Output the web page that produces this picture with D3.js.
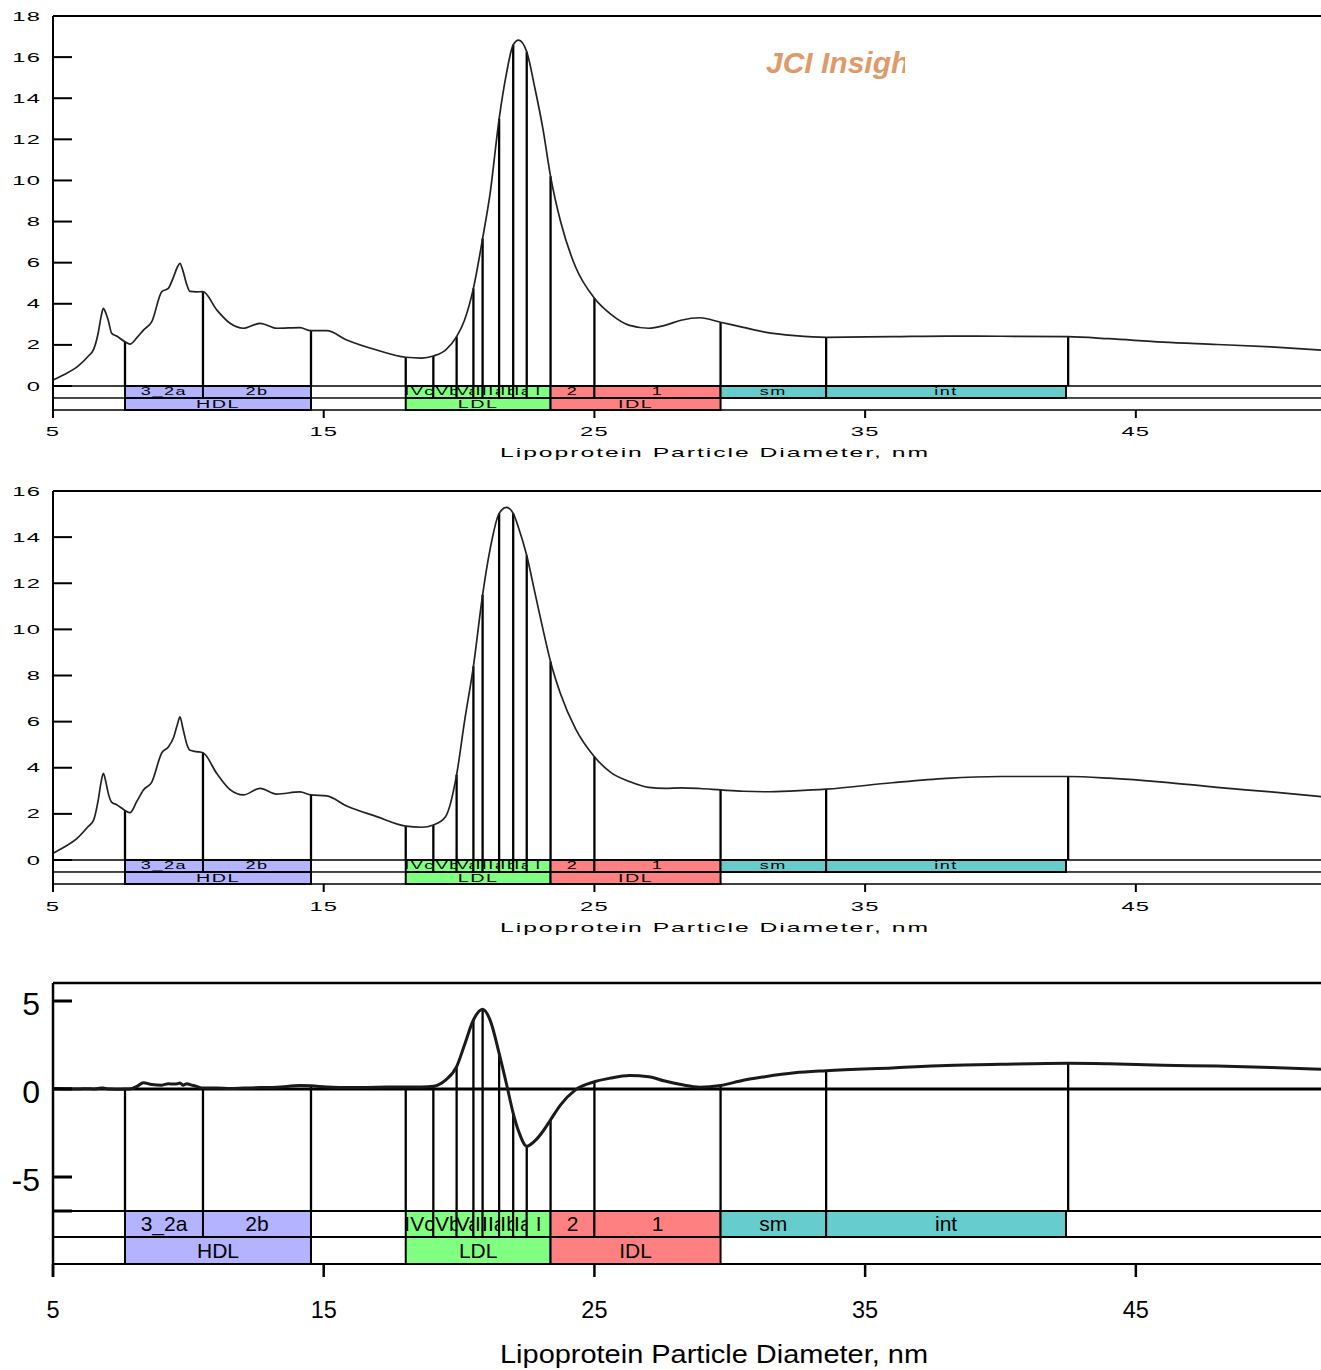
<!DOCTYPE html>
<html>
<head>
<meta charset="utf-8">
<script src="https://cdnjs.cloudflare.com/ajax/libs/d3/7.8.5/d3.min.js"></script>
<style>
  html, body { margin: 0; padding: 0; background: #fff; }
  svg { display: block; font-family: "Liberation Sans", Arial, sans-serif; }
</style>
</head>
<body>
<svg id="vis" width="1321" height="1370"></svg>
<script>

// particle diameter (nm) where the profiles were read
var diam = [5.0, 5.4, 5.9, 6.3, 6.5, 6.67, 6.78, 6.86, 6.95, 7.04,
	7.17, 7.35, 7.66, 7.84, 8.1, 8.34, 8.65, 9.02, 9.26, 9.45,
	9.6, 9.69, 9.8, 9.95, 10.06, 10.3, 10.54, 11.05, 11.54, 12.03,
	12.65, 13.26, 14.12, 14.53, 15.11, 15.85, 16.96, 18.03, 18.62, 19.05,
	19.5, 19.91, 20.2, 20.53, 20.87, 21.15, 21.48, 21.75, 22.0, 22.2,
	22.5, 22.8, 23.1, 23.38, 23.75, 24.3, 25.0, 25.6, 26.3, 27.0,
	27.6, 28.2, 28.9, 29.66, 30.5, 31.3, 32.4, 33.56, 36.0, 38.0,
	40.0, 42.5, 44.0, 46.0, 48.0, 50.0, 51.84];

// top panel profile
var profileA = [0.29, 0.55, 0.94, 1.45, 1.78, 2.58, 3.4, 3.78, 3.55, 3.2,
	2.56, 2.43, 2.15, 2.04, 2.35, 2.72, 3.13, 4.59, 4.75, 5.3,
	5.8, 5.97, 5.6, 4.9, 4.6, 4.58, 4.59, 3.7, 3.05, 2.81,
	3.05, 2.81, 2.84, 2.69, 2.69, 2.24, 1.75, 1.40, 1.36, 1.46,
	1.75, 2.40, 3.2, 4.75, 7.18, 9.4, 13.0, 15.2, 16.6, 16.83,
	16.26, 14.5, 12.5, 10.2, 8.0, 5.8, 4.27, 3.5, 2.95, 2.81,
	2.95, 3.2, 3.32, 3.1, 2.85, 2.62, 2.45, 2.37, 2.4, 2.43,
	2.42, 2.40, 2.3, 2.13, 2.02, 1.9, 1.75];

// middle panel profile
var profileB = [0.29, 0.55, 0.95, 1.45, 1.73, 2.6, 3.4, 3.76, 3.4, 2.9,
	2.5, 2.4, 2.15, 2.05, 2.55, 3.04, 3.38, 4.65, 4.9, 5.3,
	5.9, 6.21, 5.7, 5.0, 4.76, 4.7, 4.65, 3.75, 3.05, 2.82,
	3.11, 2.86, 2.95, 2.82, 2.78, 2.34, 1.88, 1.47, 1.42, 1.52,
	1.88, 3.7, 6.0, 8.4, 11.5, 13.5, 15.03, 15.29, 15.03, 14.4,
	13.2, 11.6, 10.0, 8.6, 7.2, 5.7, 4.48, 3.8, 3.4, 3.15,
	3.11, 3.13, 3.1, 3.04, 2.98, 2.96, 3.0, 3.07, 3.35, 3.54,
	3.62, 3.62, 3.55, 3.38, 3.15, 2.95, 2.75];

// bottom panel (difference)
var profileC = [0.03, 0.02, 0.0, 0.02, 0.0, 0.03, 0.05, 0.05, 0.03, 0.0,
	0.0, -0.02, 0.0, 0.0, 0.15, 0.36, 0.25, 0.22, 0.3, 0.28,
	0.3, 0.34, 0.22, 0.3, 0.25, 0.15, 0.05, 0.05, 0.03, 0.05,
	0.08, 0.1, 0.2, 0.18, 0.12, 0.08, 0.1, 0.12, 0.12, 0.15,
	0.5, 1.27, 2.5, 3.92, 4.53, 3.9, 2.03, 0.3, -1.38, -2.4,
	-3.25, -2.95, -2.4, -1.75, -0.9, -0.05, 0.41, 0.62, 0.76, 0.7,
	0.45, 0.25, 0.1, 0.2, 0.5, 0.7, 0.92, 1.04, 1.2, 1.33,
	1.4, 1.46, 1.43, 1.35, 1.3, 1.22, 1.12];

// subclass cut points (drop lines)
var cutPoints = [7.66, 10.54, 14.53, 18.03, 19.05, 19.91, 20.53, 20.87, 21.48, 22.0, 22.5, 23.38, 25.0, 29.66, 33.56, 42.5];

// subclass bands (upper row)
var subFrom = [7.66, 10.54, 18.03, 19.05, 19.91, 20.53, 20.87, 21.48, 22.0, 22.5, 23.38, 25.0, 29.66, 33.56];
var subTo = [10.54, 14.53, 19.05, 19.91, 20.53, 20.87, 21.48, 22.0, 22.5, 23.38, 25.0, 29.66, 33.56, 42.42];
var subLabels = ['3_2a', '2b', 'IVc', 'IVb', 'IVa', 'IIIb', 'IIIa', 'IIb', 'IIa', 'I', '2', '1', 'sm', 'int'];
var subClass = ['HDL', 'HDL', 'LDL', 'LDL', 'LDL', 'LDL', 'LDL', 'LDL', 'LDL', 'LDL', 'IDL', 'IDL', 'VLDL', 'VLDL'];

// class bands (lower row)
var classFrom = [7.66, 18.03, 23.38];
var classTo = [14.53, 23.38, 29.66];
var classLabels = ['HDL', 'LDL', 'IDL'];

var xTicks = [5, 15, 25, 35, 45];
var xTitle = 'Lipoprotein Particle Diameter, nm';

var classColor = { HDL: '#b3b3ff', LDL: '#80ff80', IDL: '#ff8080', VLDL: '#66cccc' };

var svg = d3.select('#vis');
svg.append('rect').attr('width', 1321).attr('height', 1370).attr('fill', '#fff');
var defs = svg.append('defs');

var x = d3.scaleLinear().domain([5, 51.84]).range([53, 1321]);

var panels = [
	{ id: 'a', values: profileA, y: d3.scaleLinear().domain([0, 18]).range([386, 16]), top: 16,
		rows: [386, 398, 410], yTicks: d3.range(0, 19, 2), big: false, tickLen: 8, labelY: 435.5, titleY: 456.5 },
	{ id: 'b', values: profileB, y: d3.scaleLinear().domain([0, 16]).range([860, 491]), top: 491,
		rows: [860, 872, 884], yTicks: d3.range(0, 17, 2), big: false, tickLen: 8, labelY: 910.5, titleY: 931.5 },
	{ id: 'c', values: profileC, y: d3.scaleLinear().domain([-5, 5]).range([1177, 1001]), top: 983,
		rows: [1211, 1237, 1264], yTicks: [-5, 0, 5], big: true, tickLen: 13, labelY: 1318, titleY: 1363 }
];

// stretched text, the upper panels use a very wide face
function wideText(g, px, py, str, size, sx, ls, anchor) {
	return g.append('text')
		.attr('transform', 'translate(' + px + ',' + py + ') scale(' + sx + ',1)')
		.attr('text-anchor', anchor || 'middle')
		.attr('font-size', size)
		.attr('letter-spacing', ls)
		.attr('fill', '#000')
		.text(str);
}

function valueAt(values, d) {
	return values[diam.indexOf(d)];
}

panels.forEach(function (p) {
	var g = svg.append('g').attr('class', 'panel-' + p.id);
	var y = p.y;
	var x0 = x.range()[0], x1 = x.range()[1];
	var bandTop = p.rows[0];
	var axisW = p.big ? 2.5 : 2;

	// drop lines from the profile down to the bands
	g.selectAll('.cut')
		.data(cutPoints)
		.enter().append('line')
		.attr('class', 'cut')
		.attr('x1', function (d) { return x(d); })
		.attr('x2', function (d) { return x(d); })
		.attr('y1', function (d) { return y(valueAt(p.values, d)); })
		.attr('y2', bandTop)
		.attr('stroke', '#000')
		.attr('stroke-width', 2.3);

	// band rows
	var rowH1 = p.rows[1] - p.rows[0], rowH2 = p.rows[2] - p.rows[1];
	g.append('rect').attr('x', x0).attr('y', p.rows[0]).attr('width', x1 - x0 + 2).attr('height', rowH1)
		.attr('fill', '#fff').attr('stroke', '#000').attr('stroke-width', p.big ? 2 : 1.5);
	g.append('rect').attr('x', x0).attr('y', p.rows[1]).attr('width', x1 - x0 + 2).attr('height', rowH2)
		.attr('fill', '#fff').attr('stroke', '#000').attr('stroke-width', p.big ? 2 : 1.5);

	classLabels.forEach(function (lab, i) {
		var a = x(classFrom[i]), b = x(classTo[i]);
		g.append('rect').attr('x', a).attr('y', p.rows[1]).attr('width', b - a).attr('height', rowH2)
			.attr('fill', classColor[lab]).attr('stroke', '#000').attr('stroke-width', 2);
		if (p.big) {
			g.append('text').attr('x', (a + b) / 2).attr('y', p.rows[1] + rowH2 / 2 + 7.5)
				.attr('text-anchor', 'middle').attr('font-size', 21).text(lab);
		} else {
			wideText(g, (a + b) / 2, p.rows[1] + rowH2 / 2 + 4.3, lab, 11.5, 1.72, 0.9);
		}
	});
	// lighter divider between the two rows on the upper panels
	if (!p.big) {
		g.append('line').attr('x1', x0).attr('x2', x1).attr('y1', p.rows[1]).attr('y2', p.rows[1])
			.attr('stroke', '#555').attr('stroke-width', 1.5);
	}

	subLabels.forEach(function (lab, i) {
		var a = x(subFrom[i]), b = x(subTo[i]);
		var cid = 'clip-' + p.id + i;
		defs.append('clipPath').attr('id', cid)
			.append('rect').attr('x', a).attr('y', p.rows[0]).attr('width', b - a).attr('height', rowH1);
		g.append('rect').attr('x', a).attr('y', p.rows[0]).attr('width', b - a).attr('height', rowH1)
			.attr('fill', classColor[subClass[i]]).attr('stroke', '#000').attr('stroke-width', 2);
		var lg = g.append('g').attr('clip-path', 'url(#' + cid + ')');
		if (p.big) {
			lg.append('text').attr('x', (a + b) / 2).attr('y', p.rows[0] + rowH1 / 2 + 6.5)
				.attr('text-anchor', 'middle').attr('font-size', 21).text(lab);
		} else {
			wideText(lg, (a + b) / 2, p.rows[0] + rowH1 / 2 + 3.3, lab, 10.5, 1.72, 0.9);
		}
	});

	// zero line for the difference panel
	if (p.big) {
		g.append('line').attr('x1', x0).attr('x2', x1).attr('y1', y(0)).attr('y2', y(0))
			.attr('stroke', '#000').attr('stroke-width', 3);
	}

	// profile
	var line = d3.line()
		.x(function (d, i) { return x(diam[i]); })
		.y(function (d) { return y(d); })
		.curve(d3.curveMonotoneX);
	g.append('path')
		.datum(p.values)
		.attr('d', line)
		.attr('fill', 'none')
		.attr('stroke', p.big ? '#1a1a1a' : '#222')
		.attr('stroke-width', p.big ? 3 : 1.7)
		.attr('stroke-linejoin', 'round');

	// frame: top edge and left axis
	g.append('line').attr('x1', x0).attr('x2', x1).attr('y1', p.top).attr('y2', p.top)
		.attr('stroke', '#000').attr('stroke-width', axisW);
	g.append('line').attr('x1', x0).attr('x2', x0).attr('y1', p.top).attr('y2', p.rows[2] + p.tickLen)
		.attr('stroke', '#000').attr('stroke-width', axisW);

	// y ticks, inward
	var yt = p.yTicks.slice();
	g.selectAll('.ytick')
		.data(yt)
		.enter().append('line')
		.attr('class', 'ytick')
		.attr('x1', x0).attr('x2', x0 + 19)
		.attr('y1', function (d) { return y(d); })
		.attr('y2', function (d) { return y(d); })
		.attr('stroke', '#000')
		.attr('stroke-width', p.big ? 3 : 2);
	if (p.big) {
		g.append('line').attr('x1', x0).attr('x2', x0 + 19).attr('y1', bandTop).attr('y2', bandTop)
			.attr('stroke', '#000').attr('stroke-width', 3);
	}
	yt.forEach(function (d) {
		if (p.big) {
			g.append('text').attr('x', 40).attr('y', y(d) + 13.5)
				.attr('text-anchor', 'end').attr('font-size', 32).text(d);
		} else {
			wideText(g, 41, y(d) + 4.5, d, 12.5, 1.9, 0.6, 'end');
		}
	});

	// x ticks, outward below the bands
	g.selectAll('.xtick')
		.data(xTicks)
		.enter().append('line')
		.attr('class', 'xtick')
		.attr('x1', function (d) { return x(d); })
		.attr('x2', function (d) { return x(d); })
		.attr('y1', p.rows[2])
		.attr('y2', p.rows[2] + p.tickLen)
		.attr('stroke', '#000')
		.attr('stroke-width', axisW);
	xTicks.forEach(function (d) {
		if (p.big) {
			g.append('text').attr('x', x(d)).attr('y', p.labelY)
				.attr('text-anchor', 'middle').attr('font-size', 23.5).text(d);
		} else {
			wideText(g, x(d), p.labelY, d, 12.5, 1.9, 0.6);
		}
	});

	// axis title
	if (p.big) {
		g.append('text').attr('x', 714).attr('y', p.titleY)
			.attr('text-anchor', 'middle').attr('font-size', 26)
			.attr('textLength', 428).attr('lengthAdjust', 'spacingAndGlyphs')
			.text(xTitle);
	} else {
		wideText(g, 714, p.titleY, xTitle, 13, 1.9, 0)
			.attr('textLength', 428 / 1.9).attr('lengthAdjust', 'spacing');
	}
});

// journal watermark, cut off on the right as in the source figure
defs.append('clipPath').attr('id', 'wm-clip')
	.append('rect').attr('x', 700).attr('y', 30).attr('width', 205).attr('height', 60);
svg.append('g').attr('clip-path', 'url(#wm-clip)')
	.append('text')
	.attr('x', 766).attr('y', 73)
	.attr('font-size', 30)
	.attr('font-weight', 'bold')
	.attr('font-style', 'italic')
	.attr('fill', '#e09a6a')
	.text('JCI Insight');

</script>
</body>
</html>
